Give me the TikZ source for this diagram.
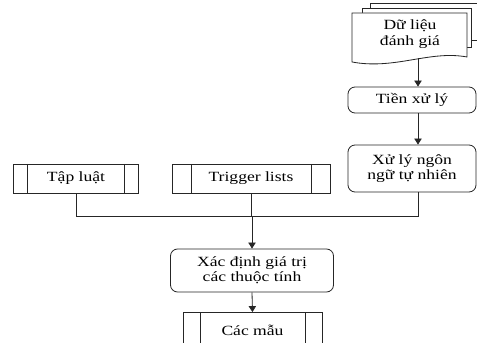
\documentclass[tikz,border=0pt]{standalone}
\usepackage{fontspec}
\setmainfont[FakeStretch=1.25]{Liberation Serif}
\usetikzlibrary{arrows.meta,positioning,calc}
\definecolor{cline}{HTML}{262626}

\begin{document}
\begin{tikzpicture}[
  x=0.03cm,y=-0.03cm,
  font=\fontsize{12}{13.2}\selectfont,
  proc/.style={rounded corners=6pt,draw=cline,fill=white,align=center,
               line width=0.7pt},
  subproc/.style={draw=cline,fill=white,align=center,line width=0.7pt,
                  minimum height=0.87cm,
                  path picture={\draw[cline,line width=0.7pt]
                    ([xshift=#1]path picture bounding box.north west) --
                    ([xshift=#1]path picture bounding box.south west)
                    ([xshift=-#1]path picture bounding box.north east) --
                    ([xshift=-#1]path picture bounding box.south east);}},
  arr/.style={-{Triangle[length=1.8mm,width=2.2mm]},line width=0.7pt,cline},
  ln/.style={line width=0.7pt,cline}]
  \useasboundingbox (0,0) rectangle (477,343);
  % stacked documents
  \draw[ln,fill=white] (370,3) rectangle (482,40);
  \draw[ln,fill=white] (362,8) rectangle (471,47);
  \draw[ln,fill=white] (352,13) -- (467,13) -- (467,57)
    .. controls (430,50) and (395,70) .. (352,62) -- cycle;
  \node[align=center] (data) at (410,34) {Dữ liệu\\đánh giá};
  \coordinate (docb) at (418,58.5);
  % right column
  \node[proc,minimum width=3.84cm,minimum height=0.78cm] (tien) at (412,100) {Tiền xử lý};
  \node[proc,minimum width=3.84cm,minimum height=1.41cm] (xuly) at (412,168.5)
    {Xử lý ngôn\\ngữ tự nhiên};
  % rule sets
  \node[subproc=0.42cm,minimum width=3.75cm] (tap) at (76,178.5) {Tập luật};
  \node[subproc=0.57cm,minimum width=4.74cm] (trig) at (251,178.5) {Trigger lists};
  \coordinate (jn) at (418,216);
  % result
  \node[proc,minimum width=4.89cm,minimum height=1.29cm] (xac) at (252,270.5)
    {Xác định giá trị\\các thuộc tính};
  \node[subproc=0.51cm,minimum width=4.17cm,minimum height=1.05cm] (mau) at (252.5,330)
    {Các mẫu};
  \draw[arr] (docb) -- (tien.north -| jn);
  \draw[arr] (tien.south -| jn) -- (xuly.north -| jn);
  \draw[ln] (xuly.south -| jn) -- (jn) -- (tap.south |- jn) -- (tap.south);
  \draw[ln] (trig.south) -- (trig.south |- jn);
  \draw[arr] (xac.north |- jn) -- (xac.north);
  \draw[arr] (xac.south) -- (mau.north);
\end{tikzpicture}
\end{document}
